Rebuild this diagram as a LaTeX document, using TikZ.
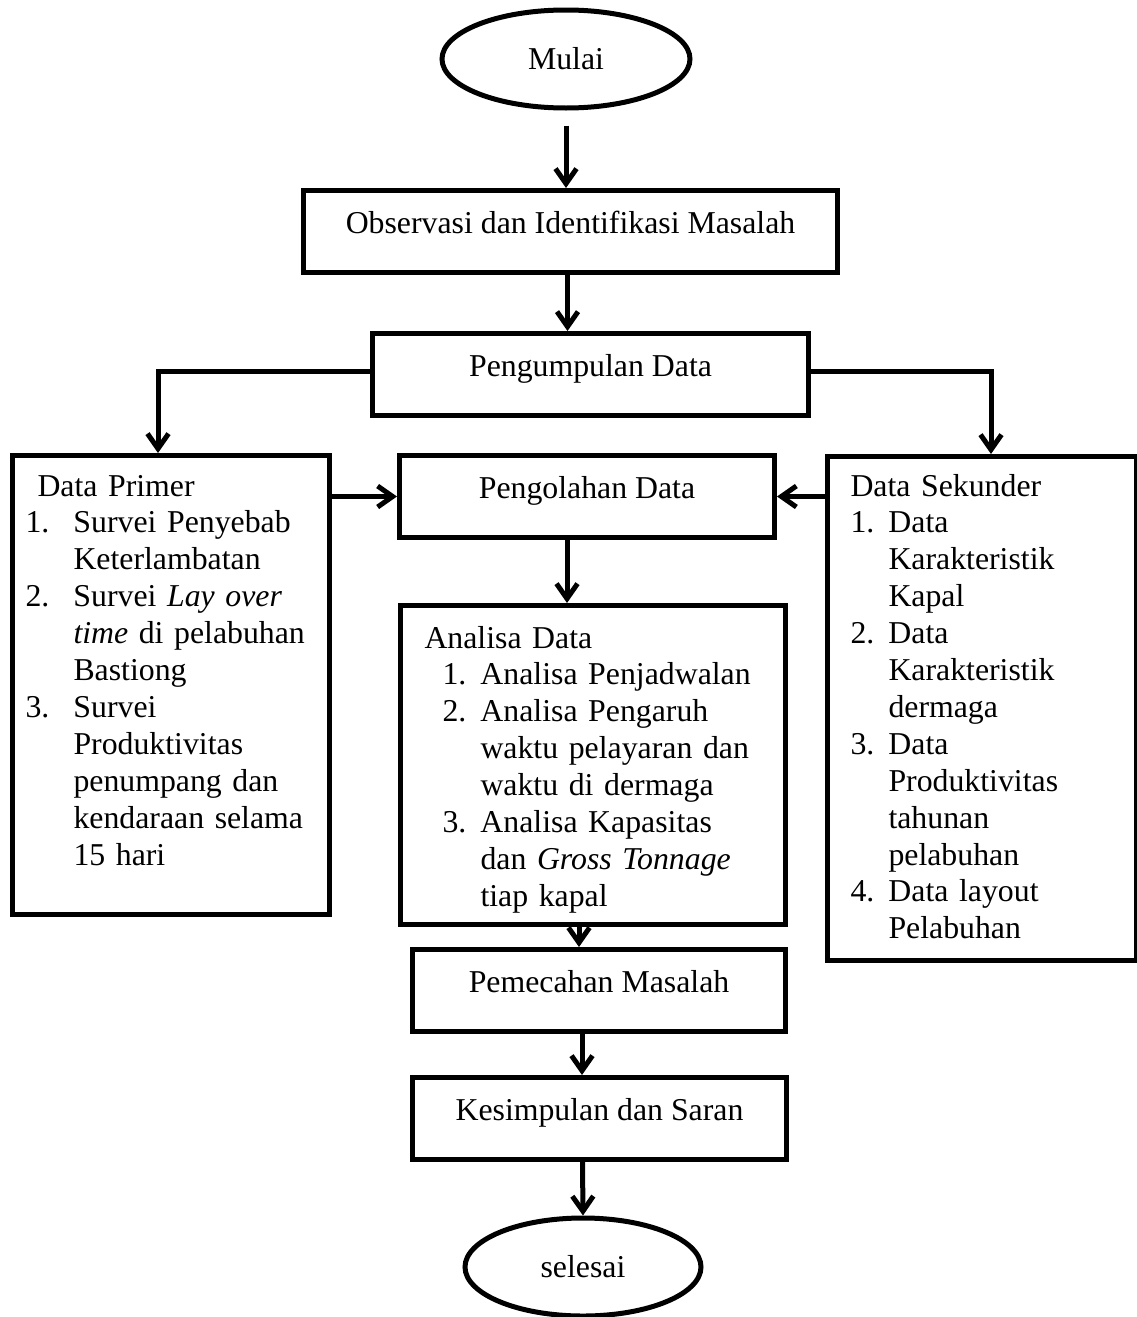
\documentclass[tikz,border=0pt]{standalone}
\usepackage{fontspec}
\setmainfont{Liberation Serif}
\usetikzlibrary{shapes.geometric,% ellipse for start and end
arrows.meta}
\tikzset{every node/.style={font=\fontsize{31.8pt}{36.9pt}\selectfont}}

\begin{document}
\begin{tikzpicture}[
  x=1pt, y=-1pt,
  line width=5pt,
  oval/.style={shape=ellipse, draw, inner sep=0pt},
  box/.style={draw, anchor=north west, inner sep=0pt, text height=43pt, text depth=39pt},
  listbox/.style={draw, anchor=north west, inner sep=0pt},
  listtext/.style={anchor=base west, inner sep=0pt, text width=400pt, align=left},
  arr/.style={-{Straight Barb[length=15pt,width=21pt]}}
% every coordinate is one pixel of the reference, y running down
]
\useasboundingbox (0,0) rectangle (1136,1317);

\path (566,59) node[oval, minimum width=248pt, minimum height=98pt] (mulai) {Mulai};
\path (301,188) node[box, minimum width=534pt] (obs) {Observasi dan Identifikasi Masalah};
\path (370,331) node[box, minimum width=436pt] (kumpul) {Pengumpulan Data};

\path (10,453) node[listbox, minimum width=317pt, minimum height=459pt] (primer) {};
\path (397,453) node[box, minimum width=375pt] (olah) {Pengolahan Data};
\path (825,454) node[listbox, minimum width=309pt, minimum height=504pt] (sekunder) {};
\path (398,603) node[listbox, minimum width=385pt, minimum height=319pt] (analisa) {};

\path (410,947) node[box, minimum width=373pt] (pecah) {Pemecahan Masalah};
\path (410,1075) node[box, minimum width=374pt] (simpul) {Kesimpulan dan Saran};
\path (583,1267) node[oval, minimum width=236pt, minimum height=98pt] (selesai) {selesai};

\path (23,496) node[listtext] (primertxt) {\hspace*{12pt}Data Primer\\
\makebox[48pt][l]{1.}Survei Penyebab\\
\hspace*{48pt}Keterlambatan\\
\makebox[48pt][l]{2.}Survei \textit{Lay over}\\
\hspace*{48pt}\textit{time} di pelabuhan\\
\hspace*{48pt}Bastiong\\
\makebox[48pt][l]{3.}Survei\\
\hspace*{48pt}Produktivitas\\
\hspace*{48pt}penumpang dan\\
\hspace*{48pt}kendaraan selama\\
\hspace*{48pt}15 hari};

\path (422,648) node[listtext] (analisatxt) {Analisa Data\\
\hspace*{18pt}\makebox[38pt][l]{1.}Analisa Penjadwalan\\
\hspace*{18pt}\makebox[38pt][l]{2.}Analisa Pengaruh\\
\hspace*{56pt}waktu pelayaran dan\\
\hspace*{56pt}waktu di dermaga\\
\hspace*{18pt}\makebox[38pt][l]{3.}Analisa Kapasitas\\
\hspace*{56pt}dan \textit{Gross Tonnage}\\
\hspace*{56pt}tiap kapal};

\path (848,496) node[listtext] (sekundertxt) {Data Sekunder\\
\makebox[38pt][l]{1.}Data\\
\hspace*{38pt}Karakteristik\\
\hspace*{38pt}Kapal\\
\makebox[38pt][l]{2.}Data\\
\hspace*{38pt}Karakteristik\\
\hspace*{38pt}dermaga\\
\makebox[38pt][l]{3.}Data\\
\hspace*{38pt}Produktivitas\\
\hspace*{38pt}tahunan\\
\hspace*{38pt}pelabuhan\\
\makebox[38pt][l]{4.}Data layout\\
\hspace*{38pt}Pelabuhan};

\draw[arr, shorten <=15pt] (mulai.south) -- (mulai.south |- obs.north);
\draw[arr] ([xshift=-3pt]obs.south) -- ([xshift=-3pt]obs.south |- kumpul.north);
\draw[arr] ([yshift=3pt]kumpul.west) -| ([xshift=-13pt]primer.north);
\draw[arr] ([yshift=3pt]kumpul.east) -| ([xshift=9pt]sekunder.north);
\draw[arr] (primer.east |- olah.west) -- (olah.west);
\draw[arr] (sekunder.west |- olah.east) -- (olah.east);
\draw[arr] ([xshift=-20pt]olah.south) -- ([xshift=-20pt]olah.south |- analisa.north);
\draw[arr] ([xshift=-14pt]analisa.south) -- ([xshift=-14pt]analisa.south |- pecah.north);
\draw[arr] ([xshift=-17pt]pecah.south) -- ([xshift=-17pt]pecah.south |- simpul.north);
\draw[arr] ([xshift=-17pt]simpul.south) -- (selesai.north);
\end{tikzpicture}
\end{document}
